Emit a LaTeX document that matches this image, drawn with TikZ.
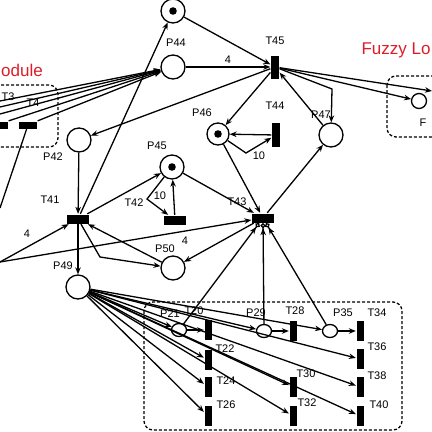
\documentclass[tikz,border=0pt]{standalone}
\usepackage{fontspec}
\setmainfont{Liberation Sans}
\usetikzlibrary{arrows.meta,shapes,positioning}
\definecolor{modred}{RGB}{222,28,40}

\begin{document}
\begin{tikzpicture}[x=1pt,y=-1pt,line width=1.3pt,>={Stealth[length=7pt,width=5.5pt]},
	place/.style={circle,draw,minimum size=24pt,inner sep=0pt},
	marked/.style={place,path picture={\fill (path picture bounding box.center) circle (3.8pt);}},
	small/.style={ellipse,draw,minimum width=15pt,minimum height=13pt,inner sep=0pt},
	vtrans/.style={rectangle,fill=black,minimum width=7pt,minimum height=20pt,inner sep=0pt},
	htrans/.style={rectangle,fill=black,minimum width=22pt,minimum height=9pt,inner sep=0pt},
	lbl/.style={font=\fontsize{11}{13}\selectfont,inner sep=0pt},
	title/.style={font=\fontsize{17}{20}\selectfont,text=modred,inner sep=0pt},
	module/.style={draw,densely dashed,rounded corners=9pt},
	test/.style={-{Stealth[length=7pt,width=5.5pt] Circle[open,length=5pt]}}]

	\useasboundingbox (0,0) rectangle (432,432);

	% module boxes
	\draw [module] (-20,85) rectangle (58,147);
	\draw [module] (387,76) rectangle (460,137);
	\draw [module] (144,302) rectangle (402,430);

	\node [title] (mod) at (22,70)  {odule};
	\node [title] (fuz) at (396,50) {Fuzzy Lo};

	% places
	\node [marked]	(pt)	at (173,11)		{};
	\node [place]	(p44)	at (173,67)		{};
	\node [place]	(p42)	at (79,140)		{};
	\node [marked]	(p45)	at (172,167)	{};
	\node [marked, minimum size=22pt]	(p46)	at (218,134)	{};
	\node [place]	(p47)	at (331,135)	{};
	\node [place]	(p49)	at (78,287)		{};
	\node [place]	(p50)	at (173,268)	{};
	\node [small]	(p21)	at (179,330)	{};
	\node [small]	(p29)	at (264,331)	{};
	\node [small]	(p35)	at (330,331)	{};
	\node [circle, draw, minimum size=15pt, inner sep=0pt]	(fp)	at (419,101)	{};

	% transitions
	\node [vtrans, minimum width=8pt, minimum height=23pt]	(t45)	at (275,67)	{};
	\node [vtrans, minimum width=8pt, minimum height=24pt]	(t44)	at (276,135)	{};
	\node [htrans]	(t41)	at (78,219)		{};
	\node [htrans]	(t42)	at (175,220)	{};
	\node [htrans]	(t43)	at (263,218)	{};
	\node [htrans, minimum width=20pt, minimum height=7pt]	(t3)	at (-2,125)	{};
	\node [htrans, minimum width=18pt, minimum height=7pt]	(t4)	at (28,125)	{};
	\node [vtrans]	(t20)	at (208,330)	{};
	\node [vtrans]	(t22)	at (208,360)	{};
	\node [vtrans]	(t24)	at (208,387)	{};
	\node [vtrans]	(t26)	at (208,416)	{};
	\node [vtrans]	(t28)	at (293,331)	{};
	\node [vtrans]	(t30)	at (293,387)	{};
	\node [vtrans]	(t32)	at (293,416)	{};
	\node [vtrans]	(t34)	at (360,331)	{};
	\node [vtrans]	(t36)	at (360,359)	{};
	\node [vtrans]	(t38)	at (360,387)	{};
	\node [vtrans]	(t40)	at (360,416)	{};

	% names
	\node [lbl] (l44) at (176,43)	{P44};
	\node [lbl] (l45t) at (275,41)	{T45};
	\node [lbl] (l3) at (8,97)		{T3};
	\node [lbl] (l4) at (33,103)	{T4};
	\node [lbl] (l42) at (53,157)	{P42};
	\node [lbl] (l41) at (50,200)	{T41};
	\node [lbl] (l45) at (157,146)	{P45};
	\node [lbl] (l42t) at (134,203)	{T42};
	\node [lbl] (l46) at (202,113)	{P46};
	\node [lbl] (l44t) at (275,106)	{T44};
	\node [lbl] (l47) at (321,115)	{P47};
	\node [lbl] (l43t) at (237,202)	{T43};
	\node [lbl] (l50) at (165,249)	{P50};
	\node [lbl] (l49) at (63,266)	{P49};
	\node [lbl] (lf) at (423,123)	{F};
	\node [lbl] (l21) at (170,314)	{P21};
	\node [lbl] (l20t) at (194,311)	{T20};
	\node [lbl] (l22t) at (225,349)	{T22};
	\node [lbl] (l24t) at (226,381)	{T24};
	\node [lbl] (l26t) at (226,405)	{T26};
	\node [lbl] (l29) at (256,313)	{P29};
	\node [lbl] (l28t) at (295,311)	{T28};
	\node [lbl] (l35) at (343,313)	{P35};
	\node [lbl] (l34t) at (377,313)	{T34};
	\node [lbl] (l36t) at (377,347)	{T36};
	\node [lbl] (l30t) at (306,374)	{T30};
	\node [lbl] (l38t) at (377,376)	{T38};
	\node [lbl] (l32t) at (307,403)	{T32};
	\node [lbl] (l40t) at (379,405)	{T40};

	% free ends at the border
	\coordinate (w1) at (0,101);
	\coordinate (w2) at (0,107);
	\coordinate (w3) at (0,114);
	\coordinate (w4) at (0,262);
	\coordinate (w5) at (0,208);
	\coordinate (e1) at (432,91);

	\path [->]	(pt) edge								(t45)
				(t41) edge								(pt)
				(p44) edge	node [lbl, above=3pt]	{4}	(t45)
				(w1) edge								(p44)
				(w2) edge								(p44)
				(w3) edge								(p44)
				(t3.north east) edge					(p44)
				(t4.north east) edge					(p44)
				(t45) edge								(p42)
				(p42) edge								(t41)
				(t41) edge								(p45)
				(t42) edge								(p45)
				(p45) edge								(t43)
				(t45) edge								(p46)
				(t44) edge								(p46)
				(p46) edge								(t43)
				(p47) edge								(t45)
				(t43) edge								(p47)
				(t45) edge								(fp)
				(t45) edge								(e1)
				(w4) edge								(t41)
				(w4) edge								(t43)
				(t41) edge								(p49)
				(p50) edge								(t41)
				(t43) edge								(p50)
				(p21) edge								(t20)
				(p29) edge								(t28)
				(p35) edge								(t34);

	\draw (t4) -- (w5);
	\draw [->] (p45) -- (147,199) -- (t42);
	\draw [->] (p46) -- (246,153) -- (t44);
	\draw [->] (t45) -- (332,89) -- (p47);
	\draw [->] (t41) -- (100,257) -- (p50);

	\node [lbl] (n10a) at (160,196) {10};
	\node [lbl] (n10b) at (259,156) {10};
	\node [lbl] (n4a) at (27,234) {4};
	\node [lbl] (n4b) at (185,241) {4};

	\draw [test] (p21) -- (t43);
	\draw [test] (p29) -- (t43);
	\draw [test] (p35) -- (t43);

	\foreach \x in {p21,t22,t24,t26,p29,t30,t32,p35,t36,t38,t40}
		\draw [->] (p49) -- (\x);

\end{tikzpicture}
\end{document}
